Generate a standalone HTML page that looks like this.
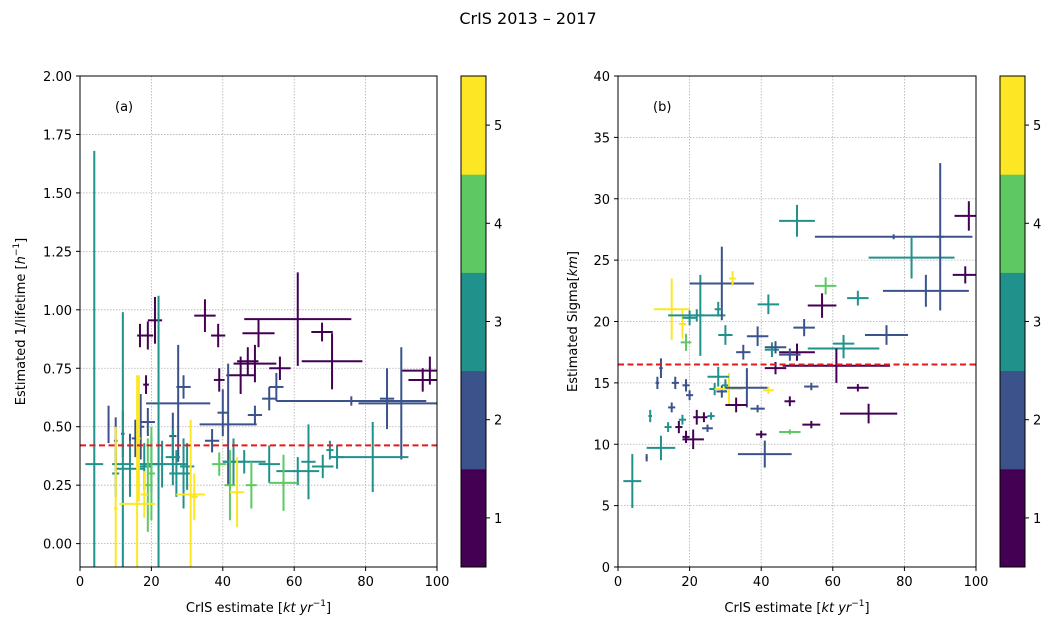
<!DOCTYPE html>
<html><head><meta charset="utf-8">
<style>
html,body{margin:0;padding:0;background:#fff;width:1056px;height:628px;overflow:hidden;}
svg{display:block;font-family:"DejaVu Sans","Liberation Sans",sans-serif;}
</style></head>
<body>
<svg id="fig" width="1056" height="628" viewBox="0 0 1056 628" xmlns="http://www.w3.org/2000/svg">
<rect width="1056" height="628" fill="#fff"/>
<text x="528" y="24" font-size="16" text-anchor="middle">CrIS 2013 – 2017</text>
<g id="pa"></g>
<g id="pb"></g>
</svg>
<script>
// Panel (a) data: CrIS estimate vs 1/lifetime
const aX    = [61,50,67.8,70.6,49,47,56,45,35,38.7,98,96,21,19,16.8,18.5,39,
  76,90,86,27.5,41.5,29,40,53,49,55,8,10,12,14,15.5,17,19,26,37,
  4,12,22,10,14,18,20,26,27,29,30,43,46,53,61,64,68,72,82,70,23,
  19,20,42,48,57,39,
  10,16,18,31,32,44,16.5];
const aXerr = [15,4.5,3,8.5,6,3,3,4,3,2,8,4,2,1.5,0.8,0.8,1.5,
  21,12,2,9,8,2,1.5,2,2,2,0.3,0.5,0.5,0.8,1,1,2,1,2,
  2.5,3,1,1,4,2,2,2,2,2,2,3,6,3,6,2,3,2,10,1,7,
  1,1,1.5,1.5,4,2,
  0.5,5,1,4,1,2,0.5];
const aY    = [0.96,0.90,0.905,0.78,0.77,0.78,0.75,0.72,0.975,0.89,0.74,0.70,0.955,0.89,0.89,0.68,0.70,
  0.61,0.60,0.62,0.60,0.51,0.67,0.56,0.62,0.55,0.67,0.51,0.44,0.47,0.42,0.45,0.50,0.52,0.46,0.44,
  0.34,0.34,0.34,0.30,0.32,0.33,0.34,0.37,0.30,0.30,0.33,0.35,0.35,0.34,0.31,0.35,0.33,0.37,0.37,0.40,0.34,
  0.25,0.30,0.25,0.25,0.26,0.34,
  0.15,0.17,0.21,0.21,0.20,0.22,0.45];
const aYerr = [0.2,0.06,0.04,0.12,0.08,0.06,0.05,0.08,0.07,0.05,0.06,0.05,0.1,0.06,0.05,0.04,0.05,
  0.02,0.24,0.13,0.25,0.26,0.05,0.1,0.05,0.04,0.06,0.08,0.1,0.1,0.05,0.08,0.14,0.06,0.1,0.05,
  1.34,0.65,0.72,0.1,0.12,0.1,0.12,0.12,0.1,0.15,0.1,0.1,0.05,0.08,0.06,0.16,0.05,0.05,0.15,0.04,0.1,
  0.2,0.2,0.15,0.1,0.12,0.05,
  0.35,0.55,0.1,0.32,0.1,0.15,0.27];
const aCls  = [1,1,1,1,1,1,1,1,1,1,1,1,1,1,1,1,1,
  2,2,2,2,2,2,2,2,2,2,2,2,2,2,2,2,2,2,2,
  3,3,3,3,3,3,3,3,3,3,3,3,3,3,3,3,3,3,3,3,3,
  4,4,4,4,4,4,
  5,5,5,5,5,5,5];
const aRef = 0.42;
// Panel (b) data: CrIS estimate vs Sigma
const bX    = [4,12,41,21,19,22,15,19,16,11,9,14,17,18,25,24,26,20,27,29,30,31,36,42,40,44,12,28,
  15,18,19,20,22,23,29,28,32,30,35,39,42,43,44,
  50,58,57,52,63,63,67,75,77,82,86,90,98,97,61,50,48,54,67,70,48,54,48,33,39,8];
const bXerr = [2.5,4,7.5,3,1,1,1,1,1,0.5,0.5,1,1,1,1.5,1,1,1,1.5,1.5,1,4,6,1.5,1.5,3,0.5,3,
  5,1,1.5,2,8,1,9,1,1,2,2,3,3,2,3,
  5,3,4,3,3,10,3,6,22,12,12,1,4,3.5,15,5,3,2,3,8,1.5,2.5,3,3,2,0.3];
const bY    = [7,9.7,9.2,10.4,10.6,12.2,13,14.8,15,15,12.3,11.4,11.4,12,11.3,12.2,12.3,14,14.5,14.3,14.8,14.5,14.6,14.4,10.8,16.2,16.2,15.5,
  21,19.8,18.3,20.3,20.5,20.5,23.1,21,23.5,18.9,17.5,18.8,21.4,17.7,17.9,
  28.2,22.9,21.3,19.5,18.2,17.8,21.9,18.9,26.9,25.2,22.5,26.9,28.6,23.8,16.4,17.5,17.3,14.7,14.6,12.5,13.5,11.6,11,13.2,12.9,8.9];
const bYerr = [2.2,1,1.1,0.8,0.5,0.6,0.4,0.5,0.5,0.5,0.5,0.4,0.5,0.4,0.3,0.4,0.3,0.4,0.5,0.5,0.5,1.3,1.6,0.3,0.3,0.5,0.8,0.8,
  2.5,1.2,0.7,0.6,0.5,3.3,3,0.6,0.6,0.8,0.6,0.8,0.8,0.6,0.5,
  1.3,0.7,1,0.7,0.7,0.8,0.6,0.8,0.2,1.7,1.3,6,1.2,0.7,1.4,0.7,0.5,0.3,0.3,0.8,0.4,0.3,0.2,0.6,0.3,0.3];
const bCls  = [3,3,2,1,1,1,2,2,2,2,3,3,1,3,2,1,3,2,3,2,3,5,2,5,1,1,2,3,
  5,5,4,3,3,3,2,3,5,3,2,2,3,3,2,
  3,4,1,2,3,3,3,2,2,3,2,2,1,1,1,1,2,2,1,1,1,1,4,1,2,2];
const bRef = 16.5;
const colors = ['#440154','#3b528b','#21918c','#5ec962','#fde725'];
const cbTicks = [1,2,3,4,5];

const NS='http://www.w3.org/2000/svg';
function mk(parent,tag,attrs,txt){const e=document.createElementNS(NS,tag);for(const k in attrs)e.setAttribute(k,attrs[k]);if(txt!==undefined)e.textContent=txt;parent.appendChild(e);return e;}

function panel(g,cfg){
  const {L,R,T,B,xmin,xmax,ymin,ymax,xt,yt,fmt,X,XE,Y,YE,C,ref,label,cbL,ylab} = cfg;
  const cl=(v,a,b)=>Math.max(a,Math.min(b,v));
  const sx=v=>L+(cl(v,xmin,xmax)-xmin)/(xmax-xmin)*(R-L);
  const sy=v=>B-(cl(v,ymin,ymax)-ymin)/(ymax-ymin)*(B-T);
  xt.forEach(v=>{const l=mk(g,'line',{x1:sx(v),x2:sx(v),y1:T,y2:B,stroke:'#b0b0b0','stroke-width':0.8,'stroke-dasharray':'1.5,1.5'});
    
    });
  yt.forEach(v=>{const l=mk(g,'line',{x1:L,x2:R,y1:sy(v),y2:sy(v),stroke:'#b0b0b0','stroke-width':0.8,'stroke-dasharray':'1.5,1.5'});
    
    });
  X.forEach((x,i)=>{
    const e=mk(g,'g',{stroke:colors[C[i]-1],'stroke-width':2});
    
    
    mk(e,'line',{x1:sx(x-XE[i]),x2:sx(x+XE[i]),y1:sy(Y[i]),y2:sy(Y[i])});
    mk(e,'line',{x1:sx(x),x2:sx(x),y1:sy(Y[i]-YE[i]),y2:sy(Y[i]+YE[i])});
  });
  const rl=mk(g,'line',{x1:L,x2:R,y1:sy(ref),y2:sy(ref),stroke:'#e41a1c','stroke-width':2,'stroke-dasharray':'6,3.5'});
  
  
  const fr=mk(g,'rect',{x:L,y:T,width:R-L,height:B-T,fill:'none',stroke:'#000','stroke-width':1});
  
  
  xt.forEach(v=>{mk(g,'line',{x1:sx(v),x2:sx(v),y1:B,y2:B+4,stroke:'#000'});
    const t=mk(g,'text',{x:sx(v),y:B+19,'font-size':13,'text-anchor':'middle'},String(v));
    
    });
  yt.forEach(v=>{mk(g,'line',{x1:L-4,x2:L,y1:sy(v),y2:sy(v),stroke:'#000'});
    const t=mk(g,'text',{x:L-8,y:sy(v)+5,'font-size':13,'text-anchor':'end'},fmt(v));
    
    });
  const pl=mk(g,'text',{x:L+35,y:T+35,'font-size':13},label);
  
  
  const xl=mk(g,'text',{x:(L+R)/2,y:B+45,'font-size':13,'text-anchor':'middle'});
  
  
  xl.innerHTML='CrIS estimate [<tspan font-style="italic">kt yr</tspan><tspan font-size="9" dy="-6">−1</tspan><tspan dy="6">]</tspan>';
  const yl=mk(g,'text',{transform:`translate(${cfg.ylx},${(T+B)/2}) rotate(-90)`,'font-size':13,'text-anchor':'middle'});
  
  
  yl.innerHTML=ylab;
  const cb=mk(g,'g',{});
  
  
  const h=(B-T)/5;
  colors.forEach((c,i)=>mk(cb,'rect',{x:cbL,y:B-(i+1)*h,width:25,height:h+0.5,fill:c}));
  mk(cb,'rect',{x:cbL,y:T,width:25,height:B-T,fill:'none',stroke:'#000'});
  cbTicks.forEach(v=>{const y=B-(v-0.5)*h;mk(cb,'line',{x1:cbL+25,x2:cbL+29,y1:y,y2:y,stroke:'#000'});
    const t=mk(cb,'text',{x:cbL+33,y:y+5,'font-size':13},String(v));
    
    });
}
panel(document.getElementById('pa'),{L:80,R:437,T:76,B:567,xmin:0,xmax:100,ymin:-0.1,ymax:2.0,
  xt:[0,20,40,60,80,100],yt:[0,0.25,0.5,0.75,1,1.25,1.5,1.75,2],fmt:v=>v.toFixed(2),
  X:aX,XE:aXerr,Y:aY,YE:aYerr,C:aCls,ref:aRef,label:'(a)',cbL:461,ylx:25,
  ylab:'Estimated 1/lifetime [<tspan font-style="italic">h</tspan><tspan font-size="9" dy="-6">−1</tspan><tspan dy="6">]</tspan>'});
panel(document.getElementById('pb'),{L:618,R:976,T:76,B:567,xmin:0,xmax:100,ymin:0,ymax:40,
  xt:[0,20,40,60,80,100],yt:[0,5,10,15,20,25,30,35,40],fmt:v=>String(v),
  X:bX,XE:bXerr,Y:bY,YE:bYerr,C:bCls,ref:bRef,label:'(b)',cbL:1000,ylx:577,
  ylab:'Estimated Sigma[<tspan font-style="italic">km</tspan>]'});
</script>
</body></html>
